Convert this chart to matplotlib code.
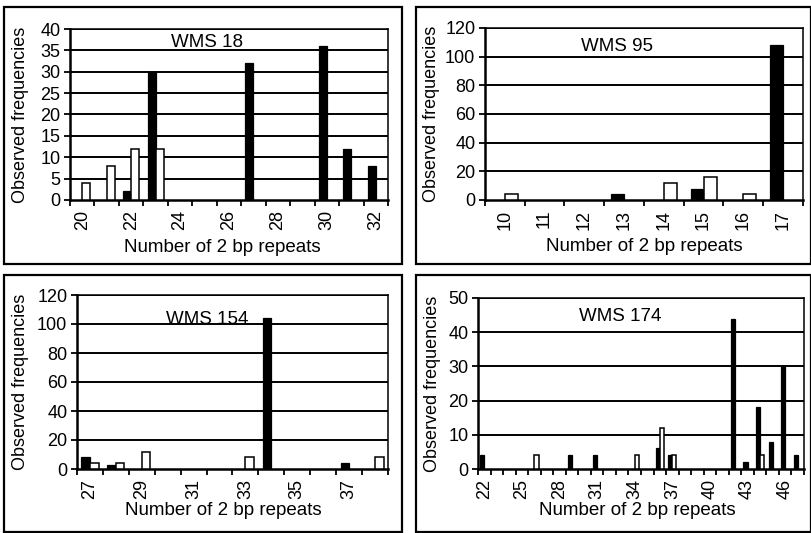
import numpy as np
import matplotlib
matplotlib.use("Agg")
import matplotlib.pyplot as plt
from matplotlib.patches import Rectangle

plt.rcParams["font.family"] = ["Liberation Sans", "DejaVu Sans"]

# WMS 18
wms18_repeats = list(range(20, 33))
wms18_black = [0, 0, 2, 30, 0, 0, 0, 32, 0, 0, 36, 12, 8]
wms18_white = [4, 8, 12, 12, 0, 0, 0, 0, 0, 0, 0, 0, 0]

# WMS 95
wms95_repeats = list(range(10, 18))
wms95_black = [0, 0, 0, 4, 0, 8, 0, 108]
wms95_white = [4, 0, 0, 0, 12, 16, 4, 0]

# WMS 154
wms154_repeats = list(range(27, 39))
wms154_black = [8, 3, 0, 0, 0, 0, 0, 104, 0, 0, 4, 0]
wms154_white = [4, 4, 12, 0, 0, 0, 8, 0, 0, 0, 0, 8]

# WMS 174
wms174_repeats = list(range(22, 48))
wms174_black = [4, 0, 0, 0, 0, 0, 0, 4, 0, 4, 0, 0, 0, 0, 6, 4,
                0, 0, 0, 0, 44, 2, 18, 8, 30, 4]
wms174_white = [0, 0, 0, 0, 4, 0, 0, 0, 0, 0, 0, 0, 4, 0, 12, 4,
                0, 0, 0, 0, 0, 0, 4, 0, 0, 0]

W, H = 812, 533
fig = plt.figure(figsize=(W / 100, H / 100), dpi=100)


def px_axes(x0, y0, x1, y1):
    return fig.add_axes([x0 / W, 1 - y1 / H, (x1 - x0) / W, (y1 - y0) / H])


def box(x0, y0, x1, y1):
    fig.patches.append(Rectangle((x0 / W, 1 - y1 / H), (x1 - x0) / W, (y1 - y0) / H,
                                 transform=fig.transFigure, fill=False,
                                 edgecolor="black", linewidth=1.6))


def panel(rect, repeats, black, white, ymax, ystep, label_step, title, title_xy,
          ylab_x, xlab_xy):
    ax = px_axes(*rect)
    n = len(repeats)
    x = np.arange(n)
    w = 0.33
    black = np.asarray(black)
    white = np.asarray(white)
    # zero counts get no outline, as in the original
    ax.bar(x - w / 2, black, width=w, color="black", edgecolor="black",
           linewidth=np.where(black > 0, 0.9, 0), zorder=3)
    ax.bar(x + w / 2, white, width=w, color="white", edgecolor="black",
           linewidth=np.where(white > 0, 1.1, 0), zorder=3)
    ax.set_xlim(-0.5, n - 0.5)
    ax.set_ylim(0, ymax)
    yt = np.arange(0, ymax + 1, ystep)
    ax.set_yticks(yt)
    for v in yt[1:]:
        ax.axhline(v, color="black", linewidth=1.4, zorder=1)
    lab_idx = list(range(0, n, label_step))
    ax.set_xticks(lab_idx)
    ax.set_xticklabels([str(repeats[i]) for i in lab_idx], rotation=90,
                       fontsize=13)
    ax.tick_params(axis="x", which="major", length=0, pad=7)
    ax.set_xticks(np.arange(n + 1) - 0.5, minor=True)
    ax.tick_params(axis="x", which="minor", length=4, width=1.3, direction="out")
    ax.tick_params(axis="y", length=4, width=1.3, labelsize=13, pad=3)
    for s in ax.spines.values():
        s.set_linewidth(1.1)
    ax.spines["left"].set_linewidth(1.8)
    ax.spines["bottom"].set_linewidth(1.8)
    ax.text(title_xy[0], title_xy[1], title, transform=ax.transAxes,
            ha="center", va="center", fontsize=13.5)
    ax.text(ylab_x, 0.5, "Observed frequencies", transform=ax.transAxes,
            rotation=90, ha="center", va="center", fontsize=13)
    ax.text(xlab_xy[0], xlab_xy[1], "Number of 2 bp repeats", transform=ax.transAxes,
            ha="center", va="center", fontsize=13.5)
    return ax


box(4, 7, 402, 264)
box(416, 7, 811, 264)
box(4, 275, 402, 532)
box(416, 275, 811, 532)

panel((70, 29, 388, 200), wms18_repeats, wms18_black, wms18_white, 40, 5, 2,
      "WMS 18", (0.43, 0.92), -0.157, (0.48, -0.275))
panel((485, 28, 803, 200), wms95_repeats, wms95_black, wms95_white, 120, 20, 1,
      "WMS 95", (0.415, 0.89), -0.167, (0.50, -0.27))
panel((77, 295, 388, 469), wms154_repeats, wms154_black, wms154_white, 120, 20, 2,
      "WMS 154", (0.42, 0.86), -0.183, (0.47, -0.236))
panel((478, 298, 804, 469), wms174_repeats, wms174_black, wms174_white, 50, 10, 3,
      "WMS 174", (0.435, 0.89), -0.141, (0.49, -0.24))

fig.savefig("out.png", dpi=100)
